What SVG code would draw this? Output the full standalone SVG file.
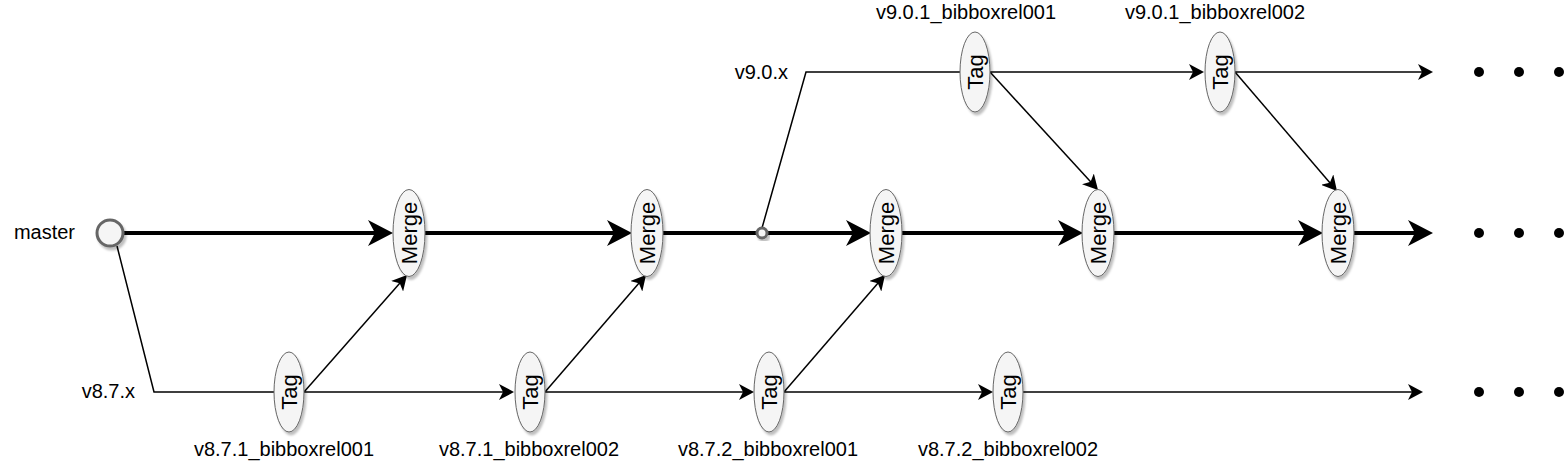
<svg xmlns="http://www.w3.org/2000/svg" width="1565" height="466" viewBox="0 0 1565 466">
<style>
.lbl{font-family:"Liberation Sans",Arial,sans-serif;font-size:20px;fill:#000}
.in{font-family:"Liberation Sans",Arial,sans-serif;font-size:22px;fill:#000;text-anchor:middle;dominant-baseline:central}
.node{fill:#f5f5f5;stroke:#666;stroke-width:1}
.thick{stroke:#000;stroke-width:4;fill:none}
.thin{stroke:#000;stroke-width:1.5;fill:none}
.dot{fill:#000}
</style>
<defs>
<filter id="sh" x="-30%" y="-30%" width="160%" height="160%">
<feDropShadow dx="2" dy="3" stdDeviation="1" flood-color="#000" flood-opacity="0.25"/>
</filter>
<marker id="aT" markerUnits="userSpaceOnUse" markerWidth="26" markerHeight="26" refX="8" refY="13" orient="auto" viewBox="0 0 26 26">
<path d="M0,0 L25,13 L0,26 L7,13 Z" fill="#000"/>
</marker>
<marker id="at" markerUnits="userSpaceOnUse" markerWidth="16" markerHeight="16" refX="5" refY="8" orient="auto" viewBox="0 0 16 16">
<path d="M0,0 L15,8 L0,16 L4,8 Z" fill="#000"/>
</marker>
</defs>
<g id="connectors">
<line class="thick" x1="124" y1="233" x2="376" y2="233" marker-end="url(#aT)"/>
<line class="thick" x1="425" y1="233" x2="615" y2="233" marker-end="url(#aT)"/>
<line class="thick" x1="663" y1="233" x2="854" y2="233" marker-end="url(#aT)"/>
<line class="thick" x1="902" y1="233" x2="1066" y2="233" marker-end="url(#aT)"/>
<line class="thick" x1="1114" y1="233" x2="1306" y2="233" marker-end="url(#aT)"/>
<line class="thick" x1="1354" y1="233" x2="1416" y2="233" marker-end="url(#aT)"/>
<polyline class="thin" points="117,246 154,392 274,392"/>
<line class="thin" x1="304" y1="392" x2="504" y2="392" marker-end="url(#at)"/>
<line class="thin" x1="545" y1="392" x2="744" y2="392" marker-end="url(#at)"/>
<line class="thin" x1="784" y1="392" x2="983" y2="392" marker-end="url(#at)"/>
<line class="thin" x1="1023" y1="392" x2="1413" y2="392" marker-end="url(#at)"/>
<line class="thin" x1="304" y1="392" x2="400.4" y2="282.5" marker-end="url(#at)"/>
<line class="thin" x1="545" y1="392" x2="639.5" y2="282.6" marker-end="url(#at)"/>
<line class="thin" x1="784" y1="392" x2="878.5" y2="282.6" marker-end="url(#at)"/>
<polyline class="thin" points="762,228 806,72 960,72"/>
<line class="thin" x1="990" y1="72" x2="1194" y2="72" marker-end="url(#at)"/>
<line class="thin" x1="1235" y1="72" x2="1423" y2="72" marker-end="url(#at)"/>
<line class="thin" x1="990" y1="72" x2="1091.3" y2="182.6" marker-end="url(#at)"/>
<line class="thin" x1="1235" y1="72" x2="1330.5" y2="183.4" marker-end="url(#at)"/>
</g>
<g id="master">
<circle cx="110" cy="233" r="13" fill="#f5f5f5" stroke="#666" stroke-width="3" filter="url(#sh)"/>
<text class="lbl" x="75" y="239" text-anchor="end">master</text>
</g>
<g id="branch-point">
<circle cx="762" cy="233" r="5" fill="#f5f5f5" stroke="#666" stroke-width="3" filter="url(#sh)"/>
</g>
<g id="label-v87x"><text class="lbl" x="135" y="398" text-anchor="end">v8.7.x</text></g>
<g id="label-v90x"><text class="lbl" x="788" y="79" text-anchor="end">v9.0.x</text></g>
<g id="merge1"><ellipse class="node" cx="409" cy="233" rx="16" ry="43.5" filter="url(#sh)"/><text class="in" transform="translate(409,233) rotate(-90)">Merge</text></g>
<g id="merge2"><ellipse class="node" cx="647" cy="233" rx="16" ry="43.5" filter="url(#sh)"/><text class="in" transform="translate(647,233) rotate(-90)">Merge</text></g>
<g id="merge3"><ellipse class="node" cx="886" cy="233" rx="16" ry="43.5" filter="url(#sh)"/><text class="in" transform="translate(886,233) rotate(-90)">Merge</text></g>
<g id="merge4"><ellipse class="node" cx="1098" cy="233" rx="16" ry="43.5" filter="url(#sh)"/><text class="in" transform="translate(1098,233) rotate(-90)">Merge</text></g>
<g id="merge5"><ellipse class="node" cx="1338" cy="233" rx="16" ry="43.5" filter="url(#sh)"/><text class="in" transform="translate(1338,233) rotate(-90)">Merge</text></g>
<g id="tag-871-1"><ellipse class="node" cx="289" cy="392" rx="15" ry="40" filter="url(#sh)"/><text class="in" transform="translate(289,392) rotate(-90)">Tag</text><text class="lbl" x="284" y="456" text-anchor="middle">v8.7.1_bibboxrel001</text></g>
<g id="tag-871-2"><ellipse class="node" cx="530" cy="392" rx="15" ry="40" filter="url(#sh)"/><text class="in" transform="translate(530,392) rotate(-90)">Tag</text><text class="lbl" x="529" y="456" text-anchor="middle">v8.7.1_bibboxrel002</text></g>
<g id="tag-872-1"><ellipse class="node" cx="769" cy="392" rx="15" ry="40" filter="url(#sh)"/><text class="in" transform="translate(769,392) rotate(-90)">Tag</text><text class="lbl" x="768" y="456" text-anchor="middle">v8.7.2_bibboxrel001</text></g>
<g id="tag-872-2"><ellipse class="node" cx="1008" cy="392" rx="15" ry="40" filter="url(#sh)"/><text class="in" transform="translate(1008,392) rotate(-90)">Tag</text><text class="lbl" x="1008" y="456" text-anchor="middle">v8.7.2_bibboxrel002</text></g>
<g id="tag-901-1"><ellipse class="node" cx="975" cy="72" rx="15" ry="40" filter="url(#sh)"/><text class="in" transform="translate(975,72) rotate(-90)">Tag</text><text class="lbl" x="966" y="19" text-anchor="middle">v9.0.1_bibboxrel001</text></g>
<g id="tag-901-2"><ellipse class="node" cx="1220" cy="72" rx="15" ry="40" filter="url(#sh)"/><text class="in" transform="translate(1220,72) rotate(-90)">Tag</text><text class="lbl" x="1215" y="19" text-anchor="middle">v9.0.1_bibboxrel002</text></g>
<g id="ellipsis">
<circle class="dot" cx="1479" cy="72" r="5"/><circle class="dot" cx="1519" cy="72" r="5"/><circle class="dot" cx="1559" cy="72" r="5"/>
<circle class="dot" cx="1479" cy="233" r="5"/><circle class="dot" cx="1519" cy="233" r="5"/><circle class="dot" cx="1559" cy="233" r="5"/>
<circle class="dot" cx="1479" cy="392" r="5"/><circle class="dot" cx="1519" cy="392" r="5"/><circle class="dot" cx="1559" cy="392" r="5"/>
</g>
</svg>
